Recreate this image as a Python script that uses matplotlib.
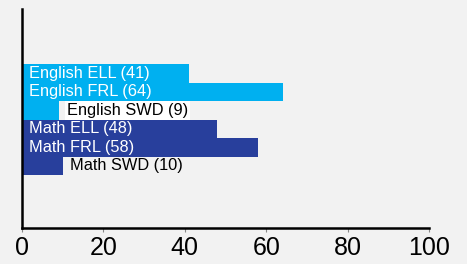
import matplotlib
matplotlib.use("Agg")
import matplotlib.pyplot as plt

plt.rcParams['font.family'] = ['Liberation Sans', 'DejaVu Sans']

categories = ["English ELL", "English FRL", "English SWD", "Math ELL", "Math FRL", "Math SWD"]
values = [41, 64, 9, 48, 58, 10]
colors = ["#00b0f0", "#00b0f0", "#00b0f0", "#283f9c", "#283f9c", "#283f9c"]
ticks = [0, 20, 40, 60, 80, 100]

fig = plt.figure(figsize=(4.67, 2.64), dpi=100, facecolor="#f2f2f2")
ax = fig.add_axes([0.047, 0.136, 0.872, 0.830])
ax.set_facecolor("#f2f2f2")

ypos = list(range(len(categories)))
ax.barh(ypos, values, height=1.0, color=colors, edgecolor="none")

fs = 11.8
for y, c, v in zip(ypos, categories, values):
    label = f"{c} ({v})"
    if "SWD" in c:
        if c.startswith("English"):
            ax.text(v + 2.0, y, label, va="center", ha="left", fontsize=fs, color="black",
                    bbox=dict(facecolor="white", edgecolor="none", boxstyle="square,pad=0.12"))
        else:
            ax.text(v + 1.8, y, label, va="center", ha="left", fontsize=fs, color="black")
    else:
        ax.text(1.7, y, label, va="center", ha="left", fontsize=fs, color="white")

ax.set_xlim(0, 100)
ax.set_ylim(8.36, -3.47)
ax.set_xticks(ticks)
ax.set_xticklabels([str(t) for t in ticks], fontsize=18)
ax.set_yticks([])
ax.tick_params(axis="x", length=3, width=0.8, color="#888888", pad=3)
for s in ["top", "right"]:
    ax.spines[s].set_visible(False)
ax.spines["left"].set_linewidth(1.8)
ax.spines["bottom"].set_linewidth(1.8)

fig.savefig("out.png", dpi=100, facecolor=fig.get_facecolor())
